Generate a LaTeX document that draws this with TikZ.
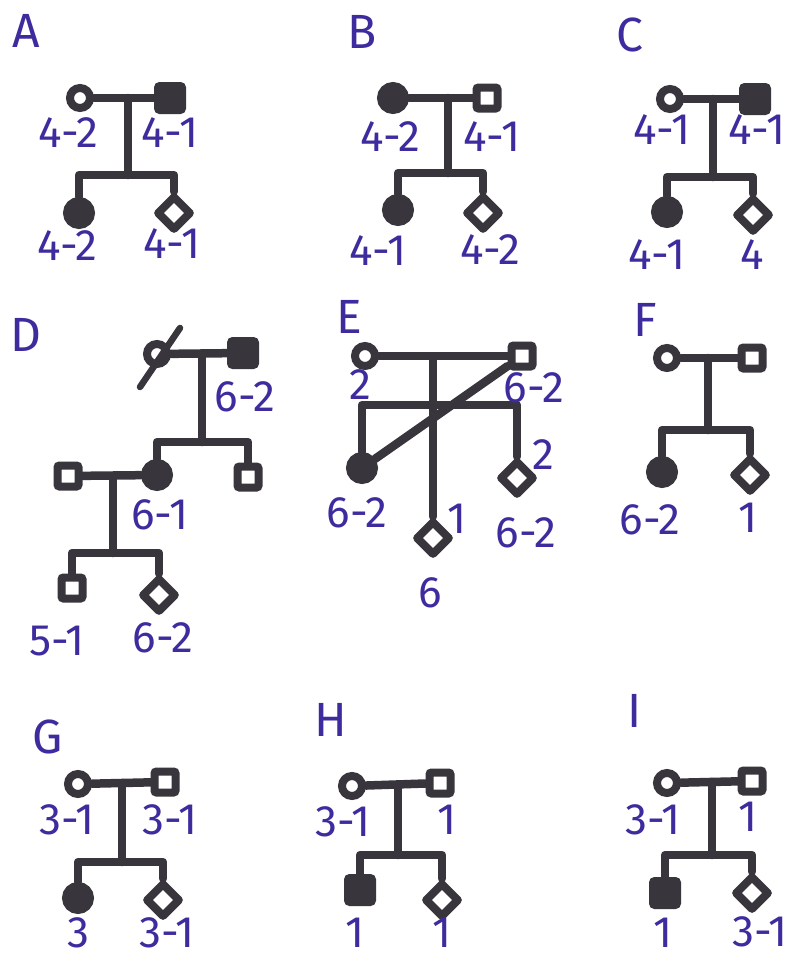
\documentclass[tikz,border=0pt]{standalone}
\usepackage{fontspec}
\setmainfont{Fira Sans}
\usetikzlibrary{shapes.geometric}
\definecolor{ink}{RGB}{56,54,60}
\definecolor{pen}{RGB}{62,44,158}
\tikzset{
 link/.style={draw=ink, line width=8.5pt, line cap=round, line join=round},
 fem/.style={circle, draw=ink, line width=8pt, fill=white, minimum size=20pt, inner sep=0pt},
 femA/.style={fem, fill=ink, minimum size=24pt},
 mal/.style={rectangle, draw=ink, line width=8pt, fill=white, minimum size=21pt, inner sep=0pt, rounded corners=2pt},
 malA/.style={mal, fill=ink, minimum size=24pt},
 unk/.style={diamond, draw=ink, line width=8pt, fill=white, minimum size=35pt, inner sep=0pt, line join=round},
 lab/.style={text=pen, font=\fontsize{44}{44}\selectfont, inner sep=0pt},
 ttl/.style={text=pen, font=\fontsize{48}{48}\selectfont, inner sep=0pt},
}
\begin{document}
\begin{tikzpicture}[x=1pt,y=-1pt]
\useasboundingbox[fill=white] (0,0) rectangle (792,961);
% ---------------- A
\node[ttl] (tA) at (26,31) {A};
\node[fem] (a1) at (80,98) {};
\node[malA] (a2) at (170,98) {};
\coordinate (aj) at (128,98); \coordinate (as) at (128,175);
\node[femA] (a3) at (79,213) {};
\node[unk] (a4) at (174,213) {};
\draw[link] (aj) -- (as);
\draw[link] (a3) |- (as) -| (a4);
\draw[link] (a1) -- (a2);
\node[lab] (la1) at (68,133) {4-2};
\node[lab] (la2) at (170,133) {4-1};
\node[lab] (la3) at (67,246) {4-2};
\node[lab] (la4) at (172,244) {4-1};
% ---------------- B
\node[ttl] (tB) at (362,32) {B};
\node[femA] (b1) at (393,98) {};
\node[mal] (b2) at (487,98) {};
\coordinate (bj) at (448,98); \coordinate (bs) at (448,173);
\node[femA] (b3) at (398,210) {};
\node[unk] (b4) at (483,213) {};
\draw[link] (bj) -- (bs);
\draw[link] (b3) |- (bs) -| (b4);
\draw[link] (b1) -- (b2);
\node[lab] (lb1) at (390,137) {4-2};
\node[lab] (lb2) at (492,137) {4-1};
\node[lab] (lb3) at (378,251) {4-1};
\node[lab] (lb4) at (490,250) {4-2};
% ---------------- C
\node[ttl] (tC) at (630,35) {C};
\node[fem] (c1) at (670,99) {};
\node[malA] (c2) at (755,99) {};
\coordinate (cj) at (713,99); \coordinate (cs) at (713,177);
\node[femA] (c3) at (667,212) {};
\node[unk] (c4) at (753,215) {};
\draw[link] (cj) -- (cs);
\draw[link] (c3) |- (cs) -| (c4);
\draw[link] (c1) -- (c2);
\node[lab] (lc1) at (662,130) {4-1};
\node[lab] (lc2) at (757,130) {4-1};
\node[lab] (lc3) at (657,255) {4-1};
\node[lab] (lc4) at (752,255) {4};
% ---------------- D
\node[ttl] (tD) at (26,335) {D};
\node[fem] (d1) at (157,354) {};
\node[malA] (d2) at (243,353) {};
\coordinate (dj) at (202,354); \coordinate (ds) at (202,442);
\node[femA] (d3) at (157,475) {};
\node[mal] (d4) at (248,477) {};
\node[mal] (d5) at (68,476) {};
\coordinate (dj2) at (113,476); \coordinate (ds2) at (113,553);
\node[mal] (d6) at (72,588) {};
\node[unk] (d7) at (159,595) {};
\draw[link] (dj) -- (ds);
\draw[link] (d3) |- (ds) -| (d4);
\draw[link] (d1) -- (d2);
\draw[link] (dj2) -- (ds2);
\draw[link] (d6) |- (ds2) -| (d7);
\draw[link] (d5) -- (d3);
\draw[link, line width=6.5pt] ([shift={(-17,33)}]d1.center) -- ([shift={(23,-26)}]d1.center);
\node[lab] (ld1) at (245,397) {6-2};
\node[lab] (ld2) at (160,515) {6-1};
\node[lab] (ld3) at (57,641) {5-1};
\node[lab] (ld4) at (163,638) {6-2};
% ---------------- E
\node[ttl] (tE) at (349,317) {E};
\node[fem] (e1) at (365,356) {};
\node[mal] (e2) at (522,356) {};
\coordinate (ej) at (433,357); \coordinate (es) at (433,405);
\node[femA] (e3) at (362,468) {};
\node[unk] (e4) at (517,478) {};
\node[unk] (e5) at (433,538) {};
\draw[link] (ej) -- (es);
\draw[link] (e3) |- (es) -| (e4);
\draw[link] (es) -- (e5);
\draw[link] (e1) -- (e2);
\draw[link] (e2) -- (e3);
\node[lab] (le1) at (360,385) {2};
\node[lab] (le2) at (534,388) {6-2};
\node[lab] (le3) at (543,455) {2};
\node[lab] (le4) at (357,513) {6-2};
\node[lab] (le5) at (457,519) {1};
\node[lab] (le6) at (526,533) {6-2};
\node[lab] (le7) at (430,593) {6};
% ---------------- F
\node[ttl] (tF) at (645,320) {F};
\node[fem] (f1) at (667,358) {};
\node[mal] (f2) at (752,358) {};
\coordinate (fj) at (708,358); \coordinate (fs) at (708,430);
\node[femA] (f3) at (662,472) {};
\node[unk] (f4) at (750,475) {};
\draw[link] (fj) -- (fs);
\draw[link] (f3) |- (fs) -| (f4);
\draw[link] (f1) -- (f2);
\node[lab] (lf1) at (650,520) {6-2};
\node[lab] (lf2) at (748,518) {1};
% ---------------- G
\node[ttl] (tG) at (48,737) {G};
\node[fem] (g1) at (78,784) {};
\node[mal] (g2) at (165,782) {};
\coordinate (gj) at (122,783); \coordinate (gs) at (122,862);
\node[femA] (g3) at (78,898) {};
\node[unk] (g4) at (163,900) {};
\draw[link] (gj) -- (gs);
\draw[link] (g3) |- (gs) -| (g4);
\draw[link] (g1) -- (g2);
\node[lab] (lg1) at (67,820) {3-1};
\node[lab] (lg2) at (170,820) {3-1};
\node[lab] (lg3) at (78,933) {3};
\node[lab] (lg4) at (167,933) {3-1};
% ---------------- H
\node[ttl] (tH) at (331,720) {H};
\node[fem] (h1) at (352,786) {};
\node[mal] (h2) at (440,783) {};
\coordinate (hj) at (398,785); \coordinate (hs) at (398,855);
\node[malA] (h3) at (360,890) {};
\node[unk] (h4) at (442,900) {};
\draw[link] (hj) -- (hs);
\draw[link] (h3) |- (hs) -| (h4);
\draw[link] (h1) -- (h2);
\node[lab] (lh1) at (343,822) {3-1};
\node[lab] (lh2) at (447,820) {1};
\node[lab] (lh3) at (355,933) {1};
\node[lab] (lh4) at (442,933) {1};
% ---------------- I
\node[ttl] (tI) at (635,711) {I};
\node[fem] (i1) at (667,783) {};
\node[mal] (i2) at (752,781) {};
\coordinate (ij) at (712,782); \coordinate (is) at (712,855);
\node[malA] (i3) at (665,893) {};
\node[unk] (i4) at (752,893) {};
\draw[link] (ij) -- (is);
\draw[link] (i3) |- (is) -| (i4);
\draw[link] (i1) -- (i2);
\node[lab] (li1) at (653,820) {3-1};
\node[lab] (li2) at (748,817) {1};
\node[lab] (li3) at (663,933) {1};
\node[lab] (li4) at (760,932) {3-1};
\end{tikzpicture}
\end{document}
